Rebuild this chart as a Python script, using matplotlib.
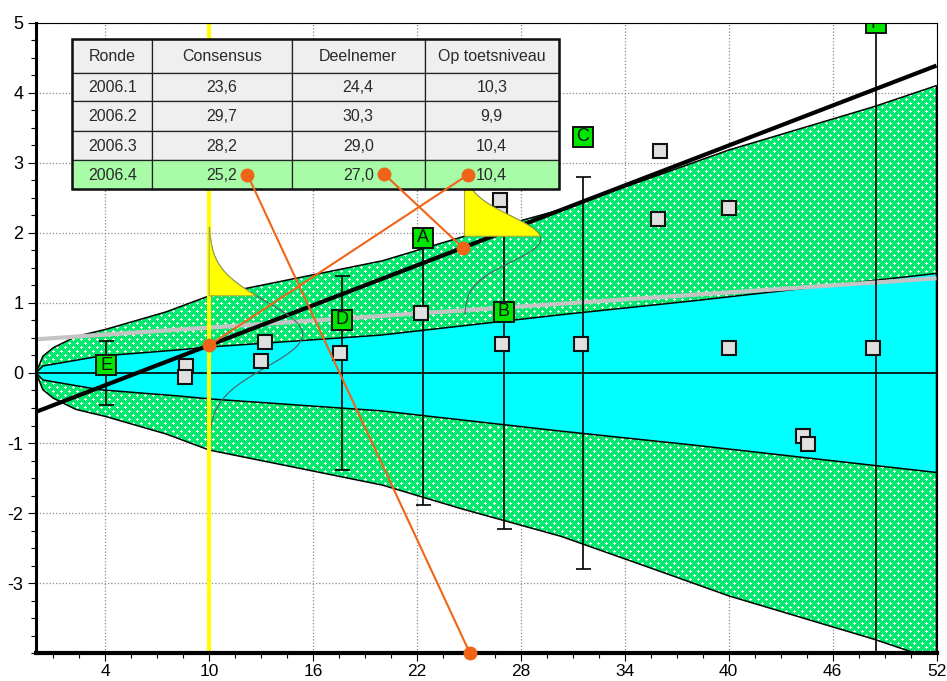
import numpy as np
import matplotlib
matplotlib.use('Agg')
import matplotlib.pyplot as plt
from matplotlib.patches import Polygon, Rectangle

plt.rcParams['font.family'] = ['Liberation Sans', 'DejaVu Sans']
plt.rcParams['axes.unicode_minus'] = False

# ---------------- data ----------------
# outer (green) and inner (cyan) limits, symmetric around 0
outer_x = [0, 0.4, 1, 2.3, 4, 7.5, 10, 14, 16, 20, 24.6, 30.3, 35, 40, 48.4, 52]
outer_limit = [0, 0.24, 0.36, 0.52, 0.62, 0.87, 1.1, 1.3, 1.4, 1.6, 1.94, 2.33, 2.74, 3.18, 3.8, 4.1]
inner_x = [0, 0.4, 3.7, 8.3, 10, 19.9, 30.3, 38, 52]
inner_limit = [0, 0.1, 0.24, 0.33, 0.37, 0.54, 0.83, 1.03, 1.42]

# trend lines
trend_x = [0, 52]
trend_black = [-0.555, 4.385]
trend_gray = [0.48, 1.35]

# other participants (grey squares)
sq_x = [8.68, 8.58, 13.02, 13.25, 17.58, 22.24, 26.93, 26.8, 26.8, 31.47,
        35.94, 36.04, 39.99, 39.99, 44.29, 44.56, 48.33]
sq_y = [0.10, -0.06, 0.17, 0.435, 0.29, 0.85, 0.41, 2.37, 2.47, 0.41,
        2.19, 3.17, 2.35, 0.36, -0.90, -1.01, 0.36]

# labelled results with error bars
lab_names = ['E', 'D', 'A', 'B', 'C', 'F']
lab_x = [4.06, 17.68, 22.34, 27.02, 31.59, 48.52]
lab_y = [0.11, 0.76, 1.93, 0.87, 3.37, 4.99]
lab_err = [0.455, 1.38, 1.88, 2.23, 2.80, 5.3]

# distributions (base x, mean, sd, peak width)
dist_base = [10.0, 24.75]
dist_mean = [0.55, 1.91]
dist_sd = [0.47, 0.33]
dist_peak = [5.4, 4.4]

# table
tbl_header = ['Ronde', 'Consensus', 'Deelnemer', 'Op toetsniveau']
tbl_ronde = ['2006.1', '2006.2', '2006.3', '2006.4']
tbl_consensus = ['23,6', '29,7', '28,2', '25,2']
tbl_deelnemer = ['24,4', '30,3', '29,0', '27,0']
tbl_toets = ['10,3', '9,9', '10,4', '10,4']

# orange connector points
toets_x = 10.0
bottom_point_x = 25.06
line_point_x = 24.65

# ---------------- figure ----------------
fig = plt.figure(figsize=(9.47, 6.81), dpi=100)
ax_bottom_px = 653.3
ax_top_px = 22.5
ax = fig.add_axes([36.0 / 947, (681 - ax_bottom_px) / 681, 900.5 / 947,
                   (ax_bottom_px - ax_top_px) / 681])
XMIN, XMAX, YMIN, YMAX = 0, 52, -4.0, 5.0
ax.set_xlim(XMIN, XMAX)
ax.set_ylim(YMIN, YMAX)

# grid
ax.set_axisbelow(True)
ax.grid(True, which='major', color='#8a8a8a', lw=0.9, linestyle=(0, (1, 1.6)))

# green textured outer band
ox = np.array(outer_x)
ol = np.array(outer_limit)
outer_poly_xy = np.column_stack([np.concatenate([ox, ox[::-1]]),
                                 np.concatenate([ol, -ol[::-1]])])
outer_patch = Polygon(outer_poly_xy, closed=True, facecolor='none',
                      edgecolor='black', lw=1.1, zorder=1.3)
ax.add_patch(outer_patch)

H, W = 631, 900
tex = np.zeros((H, W, 3))
tex[:, :] = np.array([0, 235, 110]) / 255.0
for r in range(1, H, 4):
    off = 0 if (r // 4) % 2 == 0 else 4
    for c in range(1 + off, W, 8):
        tex[r, max(c - 1, 0):c + 2] = 1.0
        tex[max(r - 1, 0):r + 2, c] = 1.0
im = ax.imshow(tex, extent=(XMIN, XMAX, YMIN, YMAX), origin='upper',
               interpolation='nearest', aspect='auto', zorder=1)
clip_patch = Polygon(outer_poly_xy, closed=True, transform=ax.transData)
im.set_clip_path(clip_patch)

# cyan inner band
ix = np.array(inner_x)
il = np.array(inner_limit)
inner_poly_xy = np.column_stack([np.concatenate([ix, ix[::-1]]),
                                 np.concatenate([il, -il[::-1]])])
ax.add_patch(Polygon(inner_poly_xy, closed=True, facecolor='#00ffff',
                     edgecolor='black', lw=1.1, zorder=1.4))

# zero line
ax.plot([XMIN, XMAX], [0, 0], color='black', lw=1.2, zorder=1.5)

# trend lines
ax.plot(trend_x, trend_gray, color='#c4c4c4', lw=3.0, zorder=2, solid_capstyle='butt')
ax.plot(trend_x, trend_black, color='black', lw=3.0, zorder=2.1, solid_capstyle='butt')

# error bars
ax.errorbar(lab_x, np.zeros(len(lab_x)), yerr=lab_err, fmt='none',
            ecolor='black', elinewidth=1.2, capsize=5.4, capthick=1.2, zorder=2.5)

# grey squares
ax.plot(sq_x, sq_y, 's', ms=9.8, mfc='#e0e0e0', mec='#111111', mew=1.5,
        linestyle='none', zorder=3)

# distributions
for b, m, s, p in zip(dist_base, dist_mean, dist_sd, dist_peak):
    yy = np.linspace(m - 3.25 * s, m + 3.25 * s, 300)
    ww = p * np.exp(-0.5 * ((yy - m) / s) ** 2)
    ax.plot(b + ww, yy, color='#4d6b6b', lw=0.9, zorder=2.6)
    lim = np.interp(b, outer_x, outer_limit)
    sel = yy >= lim
    ys = yy[sel]
    xs = b + ww[sel]
    fx = np.concatenate([[b, b + p * np.exp(-0.5 * ((lim - m) / s) ** 2)], xs, [b]])
    fy = np.concatenate([[lim, lim], ys, [ys[-1]]])
    ax.fill(fx, fy, facecolor='#ffff00', edgecolor='#a0a040', lw=0.7, zorder=4)

# yellow vertical line
ax.axvline(toets_x, color='#ffff00', lw=3.0, zorder=3.5)

# labelled green boxes
ax.plot(lab_x, lab_y, 's', ms=14.2, mfc='#00e600', mec='#111111', mew=1.4,
        linestyle='none', zorder=5)
for n, x, y in zip(lab_names, lab_x, lab_y):
    ax.text(x, y, n, ha='center', va='center', fontsize=13, color='#111111',
            zorder=5.1, clip_on=True)

# ---------------- table ----------------
col_edges = [2.09, 6.71, 14.78, 22.44, 30.2]
row_edges = [4.76, 4.28, 3.88, 3.45, 3.04, 2.62]
rows = [tbl_header] + [[a, b, c, d] for a, b, c, d in
                       zip(tbl_ronde, tbl_consensus, tbl_deelnemer, tbl_toets)]
for i, row in enumerate(rows):
    top, bot = row_edges[i], row_edges[i + 1]
    fc = '#a8fca8' if i == len(rows) - 1 else '#efefef'
    for j, txt in enumerate(row):
        left, right = col_edges[j], col_edges[j + 1]
        ax.add_patch(Rectangle((left, bot), right - left, top - bot,
                               facecolor=fc, edgecolor='#222222', lw=0.9, zorder=5.5))
        ax.text((left + right) / 2, (top + bot) / 2 - 0.01, txt, ha='center', va='center',
                fontsize=11.5, color='#2a2a2a', zorder=5.6)
ax.add_patch(Rectangle((col_edges[0], row_edges[-1]), col_edges[-1] - col_edges[0],
                       row_edges[0] - row_edges[-1], facecolor='none',
                       edgecolor='#111111', lw=1.8, zorder=5.7))

# ---------------- orange connectors ----------------
row_c = (row_edges[-2] + row_edges[-1]) / 2
anchor_cons = (12.21, row_c)
anchor_deel = (20.09, row_c + 0.01)
anchor_toets = (24.96, row_c)
pt_toets = (toets_x, np.interp(toets_x, trend_x, trend_black))
pt_line = (line_point_x, np.interp(line_point_x, trend_x, trend_black))
pt_bottom = (bottom_point_x, YMIN)
orange = '#f06418'
for a, b in [(anchor_cons, pt_bottom), (anchor_deel, pt_line), (anchor_toets, pt_toets)]:
    ax.plot([a[0], b[0]], [a[1], b[1]], color=orange, lw=1.5, zorder=6)
for p in [anchor_cons, anchor_deel, anchor_toets, pt_toets, pt_line, pt_bottom]:
    ax.plot(p[0], p[1], 'o', ms=9, color=orange, zorder=6.5, clip_on=False)

# ---------------- axes styling ----------------
ax.set_xticks(np.arange(4, 53, 6))
ax.set_xticks(np.arange(1, 52.1, 1.5), minor=True)
ax.set_yticks(np.arange(-3, 6, 1))
ax.set_yticks(np.arange(-4, 5.01, 0.25), minor=True)
ax.tick_params(which='major', direction='out', length=6, width=0.8, labelsize=13, pad=2)
ax.tick_params(axis='x', which='major', labelsize=12.5, pad=1.5)
ax.tick_params(axis='y', which='major', pad=3)
ax.tick_params(which='minor', direction='out', length=3.5, width=0.8)
for side in ['top', 'right']:
    ax.spines[side].set_linewidth(0.8)
ax.spines['left'].set_linewidth(2.2)
ax.spines['bottom'].set_linewidth(3.0)
for sp in ax.spines.values():
    sp.set_zorder(6.2)

fig.savefig('out.png', dpi=100)
